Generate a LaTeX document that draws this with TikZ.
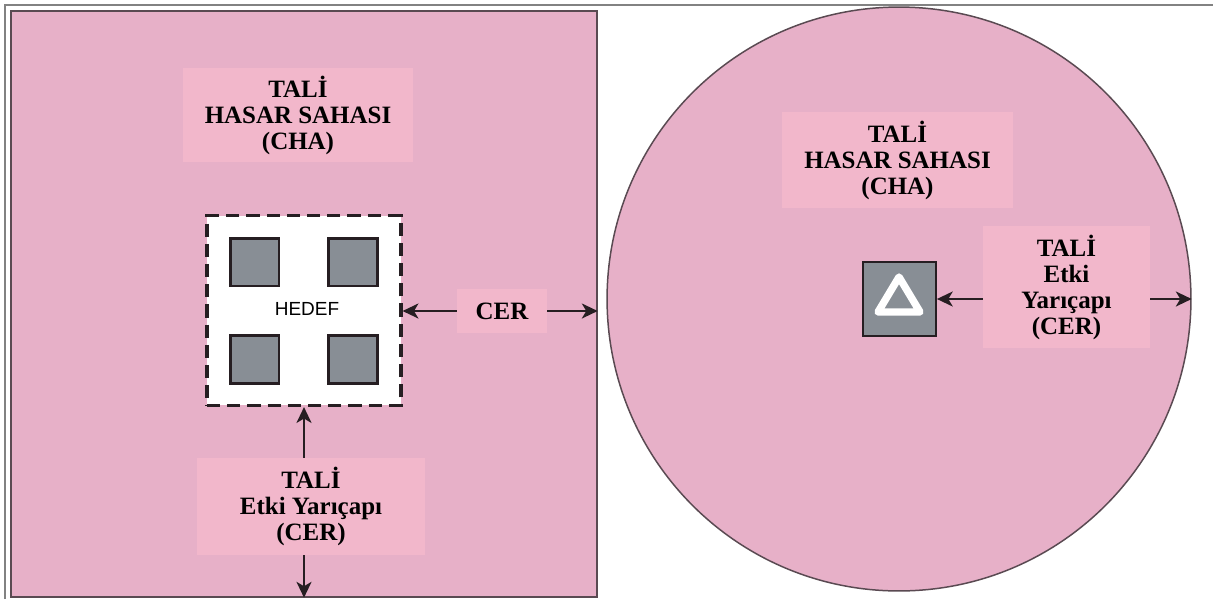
\documentclass[tikz,border=0pt]{standalone}
\usepackage{fontspec}
\setmainfont{Liberation Serif}
\setsansfont{Liberation Sans}
\usepackage{xcolor}
\usetikzlibrary{arrows.meta, positioning}

\definecolor{bgpink}{RGB}{231,176,200}
\definecolor{lblpink}{RGB}{242,183,203}
\definecolor{bldggray}{RGB}{136,142,149}
\definecolor{darkline}{RGB}{38,30,34}
\definecolor{edgeline}{RGB}{90,74,82}
\definecolor{framegray}{RGB}{130,130,130}

\begin{document}
\begin{tikzpicture}[x=0.02cm, y=-0.02cm,
    lbl/.style={fill=lblpink, align=center, inner sep=0pt, font=\fontsize{14.2}{14.8}\selectfont\bfseries},
    bldg/.style={draw=darkline, line width=1.7pt, fill=bldggray, minimum width=0.98cm, minimum height=0.96cm, inner sep=0pt},
    arr/.style={-{Stealth[length=9pt, width=8.5pt, inset=2.5pt]}, line width=1.4pt, draw=darkline}]
    \useasboundingbox (0,0) rectangle (1213,599);
    \fill[white] (0,0) rectangle (1213,599);

    % frame and the two zones
    \draw[framegray, line width=1.3pt] (5,599) |- (1213,5);
    \node[draw=edgeline, line width=0.85pt, fill=bgpink, minimum width=11.72cm, minimum height=11.72cm, inner sep=0pt] (panel) at (304,304) {};
    \node[circle, draw=edgeline, line width=0.85pt, fill=bgpink, minimum size=11.68cm, inner sep=0pt] (zone) at (899,299) {};

    % left side
    \node[lbl, minimum width=4.6cm, minimum height=1.9cm] (chaleft) at (298,115) {TALİ\\HASAR SAHASI\\(CHA)};
    \node[draw=darkline, fill=white, line width=1.8pt, dash pattern=on 7.5pt off 4pt, minimum width=3.88cm, minimum height=3.8cm, inner sep=0pt] (target) at (304,310.5) {};
    \node[bldg] (bldga) at (254.5,262) {};
    \node[bldg] (bldgb) at (353,262) {};
    \node[bldg] (bldgc) at (254.5,359.5) {};
    \node[bldg] (bldgd) at (353,359.5) {};
    \node[font=\sffamily\fontsize{10.8}{12}\selectfont] (hedef) at (307,309) {HEDEF};
    \node[lbl, minimum width=1.8cm, minimum height=0.88cm] (cerright) at (502,311) {CER};
    \node[lbl, minimum width=4.56cm, minimum height=1.94cm] (cerbelow) at (311,506.5) {TALİ\\Etki Yarıçapı\\(CER)};

    \draw[arr] (cerright.west) -- (cerright.west -| target.east);
    \draw[arr] (cerright.east) -- (cerright.east -| panel.east);
    \draw[arr] (cerbelow.north -| target.south) -- (target.south);
    \draw[arr] (cerbelow.south -| target.south) -- (target.south |- panel.south);

    % right side
    \node[lbl, minimum width=4.62cm, minimum height=1.92cm] (charight) at (897.5,160) {TALİ\\HASAR SAHASI\\(CHA)};
    \node[draw=darkline, line width=1pt, fill=bldggray, minimum width=1.46cm, minimum height=1.48cm, inner sep=0pt] (tribox) at (899.5,299) {};
    \draw[white, line width=4.2pt, line join=round] (899,277) -- (920,312) -- (878,312) -- cycle;
    \node[lbl, minimum width=3.34cm, minimum height=2.44cm] (cerround) at (1066.5,287) {TALİ\\Etki\\Yarıçapı\\(CER)};

    \draw[arr] (cerround.west |- tribox.east) -- (tribox.east);
    \draw[arr] (cerround.east |- zone.east) -- (zone.east);
\end{tikzpicture}
\end{document}
